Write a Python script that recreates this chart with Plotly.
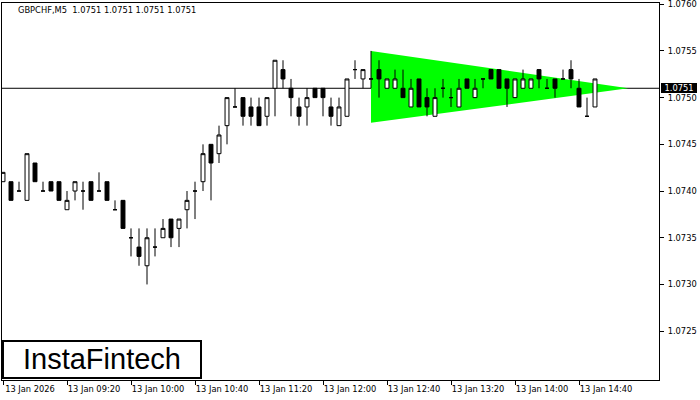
import plotly.graph_objects as go

# ---- data ----
bar_index = list(range(75))
times = []
h, m = 8, 40
for _ in bar_index:
    times.append(f"13 Jan {h:02d}:{m:02d}")
    m += 5
    if m == 60:
        h, m = h + 1, 0

opens = [1.0741, 1.0741, 1.0740, 1.0739, 1.0743, 1.0740, 1.0741, 1.0741, 1.0738, 1.0740,
         1.0740, 1.0741, 1.0740, 1.0741, 1.0738, 1.0739, 1.0735, 1.0734, 1.0732, 1.0734,
         1.0735, 1.0737, 1.0736, 1.0738, 1.0740, 1.0741, 1.0745, 1.0744, 1.0747, 1.0749,
         1.0750, 1.0749, 1.0749, 1.0748, 1.0751, 1.0753, 1.0751, 1.0749, 1.0749, 1.0751,
         1.0751, 1.0749, 1.0747, 1.0748, 1.0753, 1.0752, 1.0752, 1.0753, 1.0751, 1.0751,
         1.0751, 1.0749, 1.0752, 1.0750, 1.0748, 1.0751, 1.0750, 1.0749, 1.0752, 1.0750,
         1.0752, 1.0753, 1.0753, 1.0752, 1.0750, 1.0751, 1.0751, 1.0753, 1.0751, 1.0752,
         1.0752, 1.0753, 1.0751, 1.0748, 1.0749]
highs = [1.0742, 1.0741, 1.0741, 1.0744, 1.0743, 1.0741, 1.0741, 1.0741, 1.0740, 1.0741,
         1.0741, 1.0741, 1.0742, 1.0741, 1.0739, 1.0739, 1.0736, 1.0736, 1.0736, 1.0736,
         1.0737, 1.0737, 1.0737, 1.0740, 1.0741, 1.0745, 1.0745, 1.0747, 1.0750, 1.0751,
         1.0750, 1.0750, 1.0750, 1.0750, 1.0754, 1.0754, 1.0752, 1.0750, 1.0751, 1.0751,
         1.0751, 1.0750, 1.0750, 1.0752, 1.0754, 1.0753, 1.0755, 1.0754, 1.0752, 1.0753,
         1.0753, 1.0752, 1.0752, 1.0751, 1.0751, 1.0752, 1.0751, 1.0752, 1.0752, 1.0752,
         1.0752, 1.0753, 1.0753, 1.0752, 1.0752, 1.0753, 1.0752, 1.0753, 1.0752, 1.0752,
         1.0753, 1.0754, 1.0752, 1.0750, 1.0752]
lows = [1.0741, 1.0739, 1.0740, 1.0739, 1.0741, 1.0740, 1.0740, 1.0739, 1.0738, 1.0739,
        1.0738, 1.0739, 1.0740, 1.0739, 1.0738, 1.0736, 1.0733, 1.0732, 1.0730, 1.0733,
        1.0735, 1.0734, 1.0734, 1.0736, 1.0737, 1.0740, 1.0739, 1.0743, 1.0745, 1.0749,
        1.0747, 1.0747, 1.0747, 1.0747, 1.0748, 1.0751, 1.0748, 1.0747, 1.0747, 1.0750,
        1.0748, 1.0747, 1.0747, 1.0748, 1.0752, 1.0751, 1.0751, 1.0750, 1.0751, 1.0751,
        1.0750, 1.0749, 1.0749, 1.0748, 1.0748, 1.0750, 1.0749, 1.0749, 1.0751, 1.0750,
        1.0751, 1.0752, 1.0751, 1.0749, 1.0750, 1.0751, 1.0751, 1.0751, 1.0751, 1.0750,
        1.0752, 1.0751, 1.0749, 1.0748, 1.0749]
closes = [1.0742, 1.0739, 1.0740, 1.0744, 1.0741, 1.0740, 1.0740, 1.0739, 1.0739, 1.0741,
          1.0740, 1.0739, 1.0740, 1.0739, 1.0738, 1.0736, 1.0735, 1.0733, 1.0735, 1.0734,
          1.0736, 1.0735, 1.0737, 1.0739, 1.0740, 1.0744, 1.0743, 1.0746, 1.0750, 1.0749,
          1.0748, 1.0748, 1.0747, 1.0750, 1.0754, 1.0752, 1.0750, 1.0748, 1.0750, 1.0750,
          1.0750, 1.0748, 1.0749, 1.0752, 1.0753, 1.0753, 1.0752, 1.0752, 1.0752, 1.0752,
          1.0750, 1.0751, 1.0749, 1.0749, 1.0750, 1.0751, 1.0750, 1.0751, 1.0751, 1.0751,
          1.0752, 1.0752, 1.0751, 1.0751, 1.0752, 1.0752, 1.0752, 1.0752, 1.0751, 1.0751,
          1.0752, 1.0752, 1.0749, 1.0748, 1.0752]

current_price = 1.0751
symbol_title = "GBPCHF,M5 \u00a01.0751 1.0751 1.0751 1.0751"

# bullish symmetrical triangle (bar index, price)
triangle_x = [46, 46, 78.15]
triangle_y = [1.07550, 1.07473, 1.0751]

x_tick_positions = [0, 8, 16, 24, 32, 40, 48, 56, 64, 72]
x_tick_labels = ["13 Jan 2026", "13 Jan 09:20", "13 Jan 10:00", "13 Jan 10:40", "13 Jan 11:20",
                 "13 Jan 12:00", "13 Jan 12:40", "13 Jan 13:20", "13 Jan 14:00", "13 Jan 14:40"]
y_tick_values = [1.0725, 1.0730, 1.0735, 1.0740, 1.0745, 1.0750, 1.0755, 1.0760]

x_range = [-0.125, 82.0]
y_range = [1.071977, 1.076013]

FONT = "DejaVu Sans"

fig = go.Figure()

fig.add_trace(go.Candlestick(
    x=bar_index, open=opens, high=highs, low=lows, close=closes,
    text=times,
    increasing=dict(fillcolor="white", line=dict(color="black", width=1)),
    decreasing=dict(fillcolor="black", line=dict(color="black", width=1)),
    whiskerwidth=0, showlegend=False))

# triangle pattern (below the candles)
tri_path = "M " + " L ".join(f"{x},{y}" for x, y in zip(triangle_x, triangle_y)) + " Z"
fig.add_shape(type="path", xref="x", yref="y", path=tri_path,
              fillcolor="#00FF00", line=dict(width=0), layer="below")

# current price line (above triangle, below candles)
fig.add_shape(type="line", xref="paper", yref="y", x0=0, x1=1,
              y0=current_price, y1=current_price,
              line=dict(color="black", width=1), layer="below")

fig.update_layout(
    width=700, height=400,
    margin=dict(l=2, r=41, t=3, b=20, autoexpand=False),
    paper_bgcolor="white", plot_bgcolor="white",
    font=dict(family=FONT, size=8.3, color="black"),
    showlegend=False,
    xaxis=dict(
        range=x_range, rangeslider=dict(visible=False), automargin=False,
        tickmode="array", tickvals=x_tick_positions, ticktext=x_tick_labels,
        ticks="outside", ticklen=4, tickcolor="black", tickwidth=1,
        ticklabelshift=27, ticklabelstandoff=-3, ticklabeloverflow="allow",
        showgrid=False, zeroline=False,
        showline=True, linecolor="black", linewidth=1, mirror=True,
        tickfont=dict(family=FONT, size=8.3, color="black"),
    ),
    yaxis=dict(
        range=y_range, side="right", automargin=False,
        tickmode="array", tickvals=y_tick_values, tickformat=".4f",
        ticks="outside", ticklen=4, tickcolor="black", tickwidth=1,
        ticklabelstandoff=2, ticklabeloverflow="allow",
        showgrid=False, zeroline=False,
        showline=True, linecolor="black", linewidth=1, mirror=True,
        tickfont=dict(family=FONT, size=8.3, color="black"),
    ),
)

# symbol title
fig.add_annotation(
    xref="paper", yref="paper", x=14 / 657, y=1 - 7 / 377,
    xanchor="left", yanchor="middle", showarrow=False,
    text=symbol_title, font=dict(family=FONT, size=8.3, color="black"))

# current price label on the axis
fig.add_annotation(
    xref="paper", yref="y", x=659 / 657, y=current_price,
    xanchor="left", yanchor="middle", showarrow=False,
    text=f"{current_price:.4f}", bgcolor="black", borderpad=0, borderwidth=0,
    width=36, height=10,
    font=dict(family=FONT, size=8.3, color="white"))

# logo box
fig.add_shape(type="rect", xref="paper", yref="paper",
              x0=0.0015, x1=199 / 657, y0=2 / 377, y1=39 / 377,
              line=dict(color="black", width=2), fillcolor="white", layer="above")
fig.add_annotation(
    xref="paper", yref="paper", x=100 / 657, y=21 / 377,
    xanchor="center", yanchor="middle", showarrow=False,
    text="InstaFintech", font=dict(family="Liberation Sans", size=29, color="black"))

fig.write_html("out.html", config={"displayModeBar": False},
               post_script="document.body.style.margin='0';")
